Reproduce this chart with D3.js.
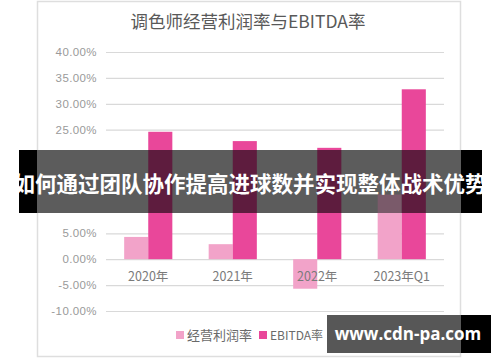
<!DOCTYPE html>
<html>
<head>
<meta charset="utf-8">
<script src="https://cdn.jsdelivr.net/npm/d3@7"></script>
<style>
  html, body { margin: 0; padding: 0; background: #fff; }
  svg { display: block; font-family: "Noto Sans CJK SC", "Noto Sans", sans-serif; }
</style>
</head>
<body>
<svg width="500" height="362"></svg>
<script>
// Data
const categories = ["2020年", "2021年", "2022年", "2023年Q1"];
const seriesNames = ["经营利润率", "EBITDA率"];
const operatingMargin = [4.3, 2.9, -5.7, 12.5];
const ebitdaMargin = [24.6, 22.8, 21.5, 32.8];
const yTicks = [-10, -5, 0, 5, 10, 15, 20, 25, 30, 35, 40];
const hiddenTicks = [15]; // covered by the banner in the picture
const colors = ["#f2a3c9", "#e9479a"];

const svg = d3.select("svg");

// chart frame (the screenshot of the chart)
svg.append("rect")
    .attr("x", 37.5).attr("y", 1.5)
    .attr("width", 423).attr("height", 355)
    .attr("fill", "#fff")
    .attr("stroke", "#dedede")
    .attr("stroke-width", 1.5);

// Title
svg.append("text")
    .attr("x", 248).attr("y", 28)
    .attr("text-anchor", "middle")
    .attr("font-size", 17.5)
    .attr("fill", "#595959")
    .text("调色师经营利润率与EBITDA率");

// Scales
const x0 = d3.scaleBand()
    .domain(categories)
    .range([106, 444])
    .paddingInner(0.43)
    .paddingOuter(0.215);

const x1 = d3.scaleBand()
    .domain(seriesNames)
    .range([0, x0.bandwidth()]);

const y = d3.scaleLinear()
    .domain([-10, 40])
    .range([311, 52]);

// Y axis + grid
const yAxis = svg.append("g")
    .attr("transform", "translate(106,0)")
    .call(d3.axisLeft(y)
        .tickValues(yTicks)
        .tickSize(-338)
        .tickPadding(9)
        .tickFormat(d => hiddenTicks.includes(d) ? "" :
            (d < 0 ? "-" : "") + Math.abs(d).toFixed(2) + "%"));
yAxis.select(".domain").remove();
yAxis.selectAll(".tick line").attr("stroke", "#d9d9d9").attr("stroke-width", 1.2);
yAxis.selectAll(".tick text")
    .attr("fill", "#9a9a9a")
    .attr("font-size", 11.5)
    .attr("letter-spacing", "0.4px")
    .attr("font-family", "'Liberation Sans', sans-serif");

// Bars
const rows = categories.map((c, i) => ({
    cat: c,
    vals: [operatingMargin[i], ebitdaMargin[i]]
}));

const groups = svg.append("g").selectAll("g")
    .data(rows)
    .enter().append("g")
    .attr("transform", d => `translate(${x0(d.cat)},0)`);

groups.selectAll("rect")
    .data(d => d.vals.map((v, j) => ({ key: seriesNames[j], v: v, j: j })))
    .enter().append("rect")
    .attr("x", d => x1(d.key))
    .attr("width", x1.bandwidth())
    .attr("y", d => y(Math.max(0, d.v)))
    .attr("height", d => Math.abs(y(d.v) - y(0)))
    .attr("fill", d => colors[d.j]);

// X labels
svg.append("g").selectAll("text")
    .data(categories)
    .enter().append("text")
    .attr("x", d => x0(d) + x0.bandwidth() / 2)
    .attr("y", 281)
    .attr("text-anchor", "middle")
    .attr("font-size", 12.5)
    .attr("fill", "#7a7a7a")
    .text(d => d);

// Legend
const legend = svg.append("g").attr("transform", "translate(176,331)");
const legendX = [0, 83];
seriesNames.forEach((name, i) => {
    legend.append("rect")
        .attr("x", legendX[i]).attr("y", 0)
        .attr("width", 8).attr("height", 8)
        .attr("fill", colors[i]);
    legend.append("text")
        .attr("x", legendX[i] + 11).attr("y", 9)
        .attr("font-size", i === 0 ? 13 : 12)
        .attr("fill", "#6a6a6a")
        .text(name);
});

// banner overlay
svg.append("rect")
    .attr("x", 19).attr("y", 150)
    .attr("width", 463).attr("height", 63)
    .attr("fill", "#000");
svg.append("rect")
    .attr("x", 37).attr("y", 150)
    .attr("width", 424).attr("height", 63)
    .attr("fill", "#fff")
    .attr("opacity", 0.36);
// bars seen through the banner, darkened
svg.append("g").selectAll("rect")
    .data(rows.flatMap(r => r.vals.map((v, j) => ({ cat: r.cat, key: seriesNames[j], v: v, j: j }))))
    .enter().append("rect")
    .attr("x", d => x0(d.cat) + x1(d.key))
    .attr("width", x1.bandwidth())
    .attr("y", d => Math.max(150, y(Math.max(0, d.v))))
    .attr("height", d => {
        const top = Math.max(150, y(Math.max(0, d.v)));
        const bot = Math.min(213, y(Math.min(0, d.v)));
        return Math.max(0, bot - top);
    })
    .attr("fill", d => d.j === 0 ? "#7a5a6a" : "#5e1c3e");

svg.append("text")
    .attr("x", 250).attr("y", 192)
    .attr("text-anchor", "middle")
    .attr("font-size", 21.5)
    .attr("font-weight", "bold")
    .attr("fill", "#fff")
    .text("如何通过团队协作提高进球数并实现整体战术优势");

// watermark box
svg.append("rect")
    .attr("x", 327).attr("y", 315)
    .attr("width", 164).attr("height", 38)
    .attr("fill", "#000");
svg.append("rect")
    .attr("x", 327).attr("y", 315)
    .attr("width", 134).attr("height", 38)
    .attr("fill", "#fff")
    .attr("opacity", 0.34);
svg.append("text")
    .attr("x", 408).attr("y", 340)
    .attr("text-anchor", "middle")
    .attr("font-size", 17)
    .attr("font-weight", "bold")
    .attr("font-family", "'Open Sans', 'DejaVu Sans', sans-serif")
    .attr("fill", "#fff")
    .text("www.cdn-pa.com");
</script>
</body>
</html>
